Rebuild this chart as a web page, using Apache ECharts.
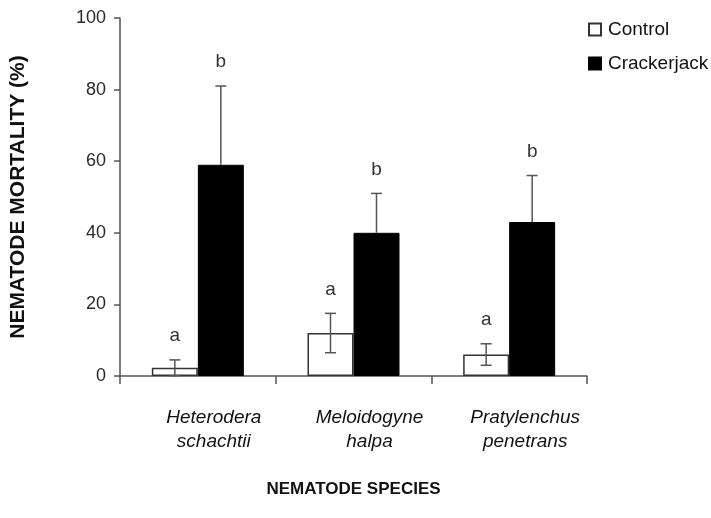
<!DOCTYPE html>
<html>
<head>
<meta charset="utf-8">
<script src="https://cdn.jsdelivr.net/npm/echarts@6/dist/echarts.min.js"></script>
<style>
  html, body { margin: 0; padding: 0; background: #fff; }
  #chart { width: 711px; height: 518px; }
</style>
</head>
<body>
<div id="chart"></div>
<script>
// nematode species (x categories)
const categories = ['Heterodera\nschachtii', 'Meloidogyne\nhalpa', 'Pratylenchus\npenetrans']
// mortality % and standard errors
const controlValues = [2.3, 12, 6]
const controlErr = [2.2, 5.5, 3]
const crackerValues = [59, 40, 43]
const crackerErr = [22, 11, 13]
// significance letters
const controlLetters = ['a', 'a', 'a']
const crackerLetters = ['b', 'b', 'b']
const yTicks = { min: 0, max: 100, interval: 20 }

const BAR_W = 46
const chart = echarts.init(document.getElementById('chart'))

// error bar + letter, shifted to the bar inside the group
function errorSeries (name, values, errs, letters, shift, bothSides) {
  return {
    name: name,
    type: 'custom',
    z: 5,
    data: values.map((v, i) => [i, v, errs[i], letters[i]]),
    renderItem (params, api) {
      const i = api.value(0)
      const v = api.value(1)
      const e = api.value(2)
      const top = api.coord([i, v + e])
      const low = api.coord([i, bothSides ? v - e : v])
      const x = top[0] + shift
      const cap = 5.5
      const lineStyle = { stroke: '#555', lineWidth: 1.5 }
      const kids = [
        { type: 'line', shape: { x1: x, y1: top[1], x2: x, y2: low[1] }, style: lineStyle },
        { type: 'line', shape: { x1: x - cap, y1: top[1], x2: x + cap, y2: top[1] }, style: lineStyle },
        {
          type: 'text',
          style: {
            text: letters[i], x: x, y: top[1] - 24,
            align: 'center', verticalAlign: 'middle',
            fontSize: 19, fontFamily: 'Liberation Sans', fill: '#333'
          }
        }
      ]
      if (bothSides) {
        kids.push({ type: 'line', shape: { x1: x - cap, y1: low[1], x2: x + cap, y2: low[1] }, style: lineStyle })
      }
      return { type: 'group', children: kids }
    },
    tooltip: { show: false }
  }
}

const option = {
  animation: false,
  grid: { left: 114, right: 124, top: 18, bottom: 142, containLabel: false },
  legend: {
    orient: 'vertical',
    left: 583,
    top: 15,
    itemWidth: 12,
    itemHeight: 12,
    itemGap: 15,
    icon: 'rect',
    data: ['Control', 'Crackerjack'],
    textStyle: { fontFamily: 'Liberation Sans', fontSize: 19, color: '#111', padding: [0, 0, 0, 2] }
  },
  xAxis: {
    type: 'category',
    data: categories,
    name: 'NEMATODE SPECIES',
    nameLocation: 'middle',
    nameGap: 105,
    nameTextStyle: { fontFamily: 'Liberation Sans', fontWeight: 'bold', fontSize: 17, color: '#111' },
    axisLine: { lineStyle: { color: '#555', width: 1.5 } },
    axisTick: { show: true, alignWithLabel: false, length: 8, lineStyle: { color: '#555', width: 1.5 } },
    axisLabel: {
      margin: 30,
      fontFamily: 'Liberation Sans',
      fontStyle: 'italic',
      fontSize: 19,
      lineHeight: 24,
      color: '#111',
      padding: [0, 0, 0, 32]
    }
  },
  yAxis: {
    type: 'value',
    min: yTicks.min,
    max: yTicks.max,
    interval: yTicks.interval,
    name: 'NEMATODE MORTALITY (%)',
    nameLocation: 'middle',
    nameRotate: 90,
    nameGap: 91,
    nameTextStyle: { fontFamily: 'Liberation Sans', fontWeight: 'bold', fontSize: 21, color: '#111' },
    axisLine: { show: true, lineStyle: { color: '#555', width: 1.5 } },
    axisTick: { show: true, length: 6, lineStyle: { color: '#555', width: 1.5 } },
    splitLine: { show: false },
    axisLabel: { margin: 14, fontFamily: 'Liberation Sans', fontSize: 18, color: '#2a2a2a' }
  },
  series: [
    {
      name: 'Control',
      type: 'bar',
      barWidth: BAR_W,
      barGap: '0%',
      data: controlValues,
      itemStyle: { color: '#fff', borderColor: '#333', borderWidth: 1.5 }
    },
    {
      name: 'Crackerjack',
      type: 'bar',
      barWidth: BAR_W,
      barGap: '0%',
      data: crackerValues,
      itemStyle: { color: '#000', borderColor: '#000', borderWidth: 1 }
    },
    errorSeries('Control err', controlValues, controlErr, controlLetters, -BAR_W / 2, true),
    errorSeries('Crackerjack err', crackerValues, crackerErr, crackerLetters, BAR_W / 2, false)
  ]
}
chart.setOption(option)
</script>
</body>
</html>
